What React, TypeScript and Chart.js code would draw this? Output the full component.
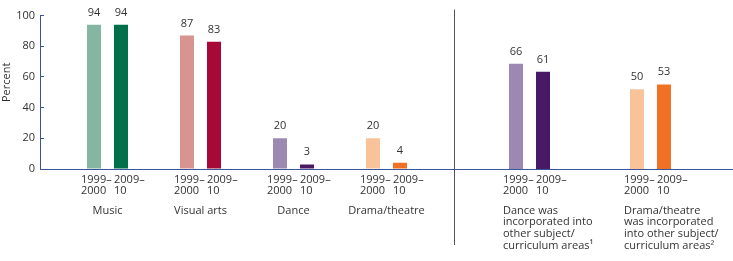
import { useEffect, useRef } from "react";
import { Chart, registerables } from "chart.js";

Chart.register(...registerables);

// ---------- data ----------
const periodLines = [
  ["1999–", "2000"],
  ["2009–", "10"],
];

const leftCategories = [["Music"], ["Visual arts"], ["Dance"], ["Drama/theatre"]];
const left1999 = [94, 87, 20, 20];
const left2009 = [94, 83, 3, 4];

const rightCategories = [
  ["Dance was", "incorporated into", "other subject/", "curriculum areas¹"],
  ["Drama/theatre", "was incorporated", "into other subject/", "curriculum areas²"],
];
const right1999 = [66, 50];
const right2009 = [61, 53];

const yTitle = "Percent";
const yMin = 0;
const yMax = 100;
const yStep = 20;

// ---------- styles ----------
const leftColors1999 = ["#84b6a3", "#d89490", "#9c89b2", "#f9c39a"];
const leftColors2009 = ["#00704a", "#a80835", "#4a1966", "#f07124"];
const rightColors1999 = ["#9c89b2", "#f9c39a"];
const rightColors2009 = ["#4a1966", "#f07124"];

const FONT = '"Open Sans", sans-serif';
const TEXT = "#333333";
const AXIS = "#3a559c";
const DIVIDER = "#555555";

type PanelOpts = {
  cats: string[][];
  v1: number[];
  v2: number[];
  col1: string[];
  col2: string[];
  edgeLeft: number;
  edgeRight: number;
  padLeft: number;
  padRight: number;
  showY: boolean;
  catAlign: "center" | "left";
  divider: boolean;
  catPct: number;
};

function labelPlugin(o: PanelOpts) {
  return {
    id: "panelLabels",
    afterDatasetsDraw(chart: any) {
      const { ctx, chartArea } = chart;
      ctx.save();
      ctx.fillStyle = TEXT;
      ctx.font = `11px ${FONT}`;
      ctx.textBaseline = "alphabetic";
      chart.data.datasets.forEach((ds: any, di: number) => {
        const meta = chart.getDatasetMeta(di);
        meta.data.forEach((bar: any, i: number) => {
          ctx.textAlign = "center";
          ctx.fillText(String(ds.data[i]), bar.x, bar.y - 9);
          ctx.textAlign = "left";
          const x0 = bar.x - (di === 0 ? 13 : 7);
          periodLines[di].forEach((ln, k) => {
            ctx.fillText(ln, x0, chartArea.bottom + 13.7 + k * 10.9);
          });
        });
      });
      const xs = chart.scales.x;
      o.cats.forEach((lines, i) => {
        let x: number;
        if (o.catAlign === "center") {
          ctx.textAlign = "center";
          x = xs.getPixelForValue(i);
        } else {
          ctx.textAlign = "left";
          x = chart.getDatasetMeta(0).data[i].x - 13;
        }
        lines.forEach((ln, k) => {
          ctx.fillText(ln, x, chartArea.bottom + 44.5 + k * 11.7);
        });
      });
      if (o.showY) {
        ctx.save();
        ctx.translate(chartArea.left - 33, (chartArea.top + chartArea.bottom) / 2 - 10);
        ctx.rotate(-Math.PI / 2);
        ctx.textAlign = "center";
        ctx.textBaseline = "middle";
        ctx.fillText(yTitle, 0, 0);
        ctx.restore();
      }
      if (o.divider) {
        const x = Math.round(chartArea.left) + 0.5;
        ctx.strokeStyle = DIVIDER;
        ctx.lineWidth = 1;
        ctx.beginPath();
        ctx.moveTo(x, chartArea.top);
        ctx.lineTo(x, chartArea.bottom + 76);
        ctx.stroke();
      }
      ctx.restore();
    },
  };
}

function makeConfig(o: PanelOpts): any {
  const n = o.cats.length;
  return {
    type: "bar",
    data: {
      labels: o.cats.map((_, i) => i),
      datasets: [
        { label: "1999–2000", data: o.v1, backgroundColor: o.col1 },
        { label: "2009–10", data: o.v2, backgroundColor: o.col2 },
      ],
    },
    options: {
      responsive: false,
      animation: false,
      devicePixelRatio: 1,
      categoryPercentage: o.catPct,
      barPercentage: 14 / 27,
      layout: { padding: { top: 9.5, left: o.padLeft, right: o.padRight, bottom: 0 } },
      plugins: { legend: { display: false }, tooltip: { enabled: false }, title: { display: false } },
      scales: {
        x: {
          type: "linear",
          offset: false,
          min: -o.edgeLeft,
          max: n - 1 + o.edgeRight,
          grid: { display: false, offset: false },
          border: { display: true, color: AXIS, width: 1 },
          ticks: { display: false },
          afterBuildTicks: (axis: any) => {
            axis.ticks = o.cats.map((_, i) => ({ value: i }));
          },
          afterFit: (axis: any) => {
            axis.height = 92;
          },
        },
        y: {
          display: o.showY,
          min: yMin,
          max: yMax,
          grid: {
            display: true,
            drawOnChartArea: false,
            drawTicks: true,
            tickLength: -4,
            color: AXIS,
          },
          border: { display: true, color: AXIS, width: 1 },
          ticks: {
            stepSize: yStep,
            color: TEXT,
            font: { family: FONT, size: 11 },
            padding: 9,
          },
          afterFit: (axis: any) => {
            axis.width = o.showY ? 40 : 0;
          },
        },
      },
    },
    plugins: [labelPlugin(o)],
  };
}

export default function App() {
  const leftRef = useRef<HTMLCanvasElement>(null);
  const rightRef = useRef<HTMLCanvasElement>(null);

  useEffect(() => {
    const left = new Chart(
      leftRef.current as HTMLCanvasElement,
      makeConfig({
        cats: leftCategories,
        v1: left1999,
        v2: left2009,
        col1: leftColors1999,
        col2: leftColors2009,
        edgeLeft: 0.726,
        edgeRight: 0.726,
        padLeft: 0,
        padRight: 279,
        showY: true,
        catAlign: "center",
        divider: false,
        catPct: 54 / 93,
      })
    );
    const right = new Chart(
      rightRef.current as HTMLCanvasElement,
      makeConfig({
        cats: rightCategories,
        v1: right1999,
        v2: right2009,
        col1: rightColors1999,
        col2: rightColors2009,
        edgeLeft: 0.624,
        edgeRight: 0.682,
        padLeft: 454,
        padRight: 0,
        showY: false,
        catAlign: "left",
        divider: true,
        catPct: 54 / 121,
      })
    );
    return () => {
      left.destroy();
      right.destroy();
    };
  }, []);

  return (
    <div style={{ position: "fixed", left: 0, top: 0, width: 733, height: 261, background: "#ffffff" }}>
      <canvas ref={leftRef} width={733} height={261} style={{ position: "absolute", left: 0, top: 0 }} />
      <canvas ref={rightRef} width={733} height={261} style={{ position: "absolute", left: 0, top: 0 }} />
    </div>
  );
}
